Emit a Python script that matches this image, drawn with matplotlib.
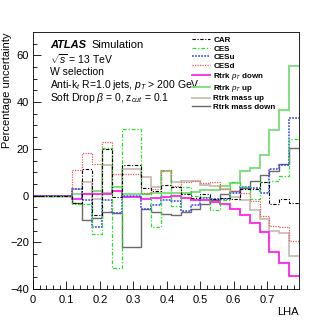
import numpy as np
import matplotlib
matplotlib.use("Agg")
import matplotlib.pyplot as plt
from matplotlib.lines import Line2D

plt.rcParams['font.family'] = ['Liberation Sans', 'DejaVu Sans']
plt.rcParams['mathtext.fontset'] = 'custom'
plt.rcParams['mathtext.rm'] = 'Liberation Sans'
plt.rcParams['mathtext.it'] = 'Liberation Sans:italic'
plt.rcParams['mathtext.bf'] = 'Liberation Sans:bold'

# LHA histogram, 27 equal bins, first 4 empty
lha_max = 0.795
n_bins = 27
empty = [0.0, 0.0, 0.0, 0.0]

car = empty + [-3.0, 11.5, -8.5, 19.8, -0.5, 12.9, 12.9, 3.3, 2.0, 4.5, 3.5, 0.5,
               -1.0, 0.7, -1.4, -1.0, -1.4, 3.0, 3.0, 6.0, -3.5, -1.5, -3.0]
ces = empty + [-3.5, -3.6, -16.3, 20.3, -31.0, 28.3, 28.3, 0.5, -13.6, 10.5, -4.4, 3.5,
               0.0, -0.5, -6.4, -2.0, 5.9, 3.8, -1.3, 5.7, 6.3, 8.4, 24.0]
cesu = empty + [2.6, -2.1, -13.5, -1.7, -7.4, -0.3, -0.3, -5.7, -4.0, -2.0, -2.5, -6.5,
                -4.0, -1.0, -1.3, -1.4, 1.1, 3.5, 3.2, 1.0, 11.5, 13.0, 33.0]
cesd = empty + [10.9, 18.2, 13.7, 22.8, 9.3, 9.3, 9.3, 1.1, 2.8, 10.8, 4.2, 5.9,
                6.3, 5.3, 5.9, 2.8, 2.1, 1.0, -2.5, -8.9, -13.1, -13.6, -19.3]
pt_down = empty + [-1.5, 0.6, 0.7, 0.8, 1.9, -0.7, -0.7, -1.4, -1.1, -0.7, -0.3, -1.1,
                   -1.7, -2.0, -2.9, -3.7, -5.7, -8.3, -11.7, -15.7, -24.0, -28.9, -34.4]
pt_up = empty + [0.5, 0.8, 2.0, 1.0, 3.8, 0.5, 0.5, 0.8, 1.0, 1.0, 1.2, 1.0,
                 1.5, 2.2, 2.5, 4.0, 5.5, 10.5, 12.0, 17.5, 28.0, 36.8, 55.4]
mass_up = empty + [3.0, 5.6, -1.4, 12.9, 2.0, 11.2, 11.2, 8.1, 3.5, 10.5, 5.9, 6.3,
                   6.3, 4.5, 3.9, 2.8, -0.7, -1.7, -6.4, -10.0, -15.0, -16.1, -26.0]
mass_down = empty + [-3.3, -10.3, -9.7, -7.1, -7.4, -22.1, -22.1, -5.7, -7.1, -7.9, -8.3, -7.1,
                     -5.7, -3.6, -2.0, 0.7, 2.1, 3.3, 6.1, 9.0, 10.4, 13.3, 20.4]

edges = np.linspace(0, lha_max, n_bins + 1)

series = [
    ("CAR", car, dict(color="black", ls=(0, (3, 1.5, 1, 1.5)), lw=0.8)),
    ("CES", ces, dict(color="#22e022", ls=(0, (3, 1.5, 1, 1.5)), lw=0.9)),
    ("CESu", cesu, dict(color="#3344ee", ls=(0, (1.2, 0.8)), lw=1.1)),
    ("CESd", cesd, dict(color="#ee5555", ls=(0, (1, 1)), lw=0.9)),
    ("Rtrk $p_{T}$ down", pt_down, dict(color="#ff22ee", ls="-", lw=1.3)),
    ("Rtrk $p_{T}$ up", pt_up, dict(color="#77dd77", ls="-", lw=1.3)),
    ("Rtrk mass up", mass_up, dict(color="#c8bfb5", ls="-", lw=1.3)),
    ("Rtrk mass down", mass_down, dict(color="#6a6a6a", ls="-", lw=1.0)),
]

fig = plt.figure(figsize=(3.32, 3.22), dpi=100)
ax = fig.add_axes([0.0994, 0.1025, 0.8012, 0.7981])

handles = []
for label, vals, st in reversed(series):
    ax.stairs(vals, edges, baseline=None, **st)
for label, vals, st in series:
    handles.append(Line2D([], [], **st))

ax.set_xlim(0, lha_max)
ax.set_ylim(-40, 70)
ax.set_xticks(np.arange(0, 0.71, 0.1))
ax.set_xticklabels(['0', '0.1', '0.2', '0.3', '0.4', '0.5', '0.6', '0.7'])
ax.set_xticks(np.arange(0, lha_max, 0.02), minor=True)
ax.set_yticks(np.arange(-40, 61, 20))
ax.set_yticks(np.arange(-40, 70, 5), minor=True)
ax.tick_params(which='both', direction='in', labelsize=8)
ax.tick_params(which='major', length=6, width=0.6)
ax.tick_params(which='minor', length=3, width=0.6)
ax.tick_params(axis='x', pad=4)
ax.tick_params(axis='y', pad=3)
for sp in ax.spines.values():
    sp.set_linewidth(0.6)

ax.set_ylabel('Percentage uncertainty', loc='top', fontsize=8)
ax.yaxis.set_label_coords(-0.078, 1.0)
ax.set_xlabel('LHA', loc='right', fontsize=8, labelpad=2)

tx = 0.064
ax.text(tx, 0.948, 'ATLAS', transform=ax.transAxes, fontsize=8,
        fontweight='bold', fontstyle='italic', va='center')
ax.text(tx + 0.155, 0.948, 'Simulation', transform=ax.transAxes, fontsize=8, va='center')
ax.text(tx, 0.895, r'$\sqrt{s}$ = 13 TeV', transform=ax.transAxes, fontsize=7.5, va='center')
ax.text(tx, 0.845, 'W selection', transform=ax.transAxes, fontsize=7.5, va='center')
ax.text(tx, 0.795, r'Anti-k$_{t}$ R=1.0 jets, $p_{T}$ > 200 GeV', transform=ax.transAxes,
        fontsize=7.5, va='center')
ax.text(tx, 0.745, r'Soft Drop $\beta$ = 0, z$_{cut}$ = 0.1', transform=ax.transAxes,
        fontsize=7.5, va='center')

leg = ax.legend(handles, [s[0] for s in series], loc='upper left',
                bbox_to_anchor=(0.575, 1.005), frameon=False,
                prop={'weight': 'bold', 'size': 5.8}, handlelength=2.3,
                handletextpad=0.4, labelspacing=0.12, borderpad=0.2)

fig.savefig('out.png', dpi=100)
